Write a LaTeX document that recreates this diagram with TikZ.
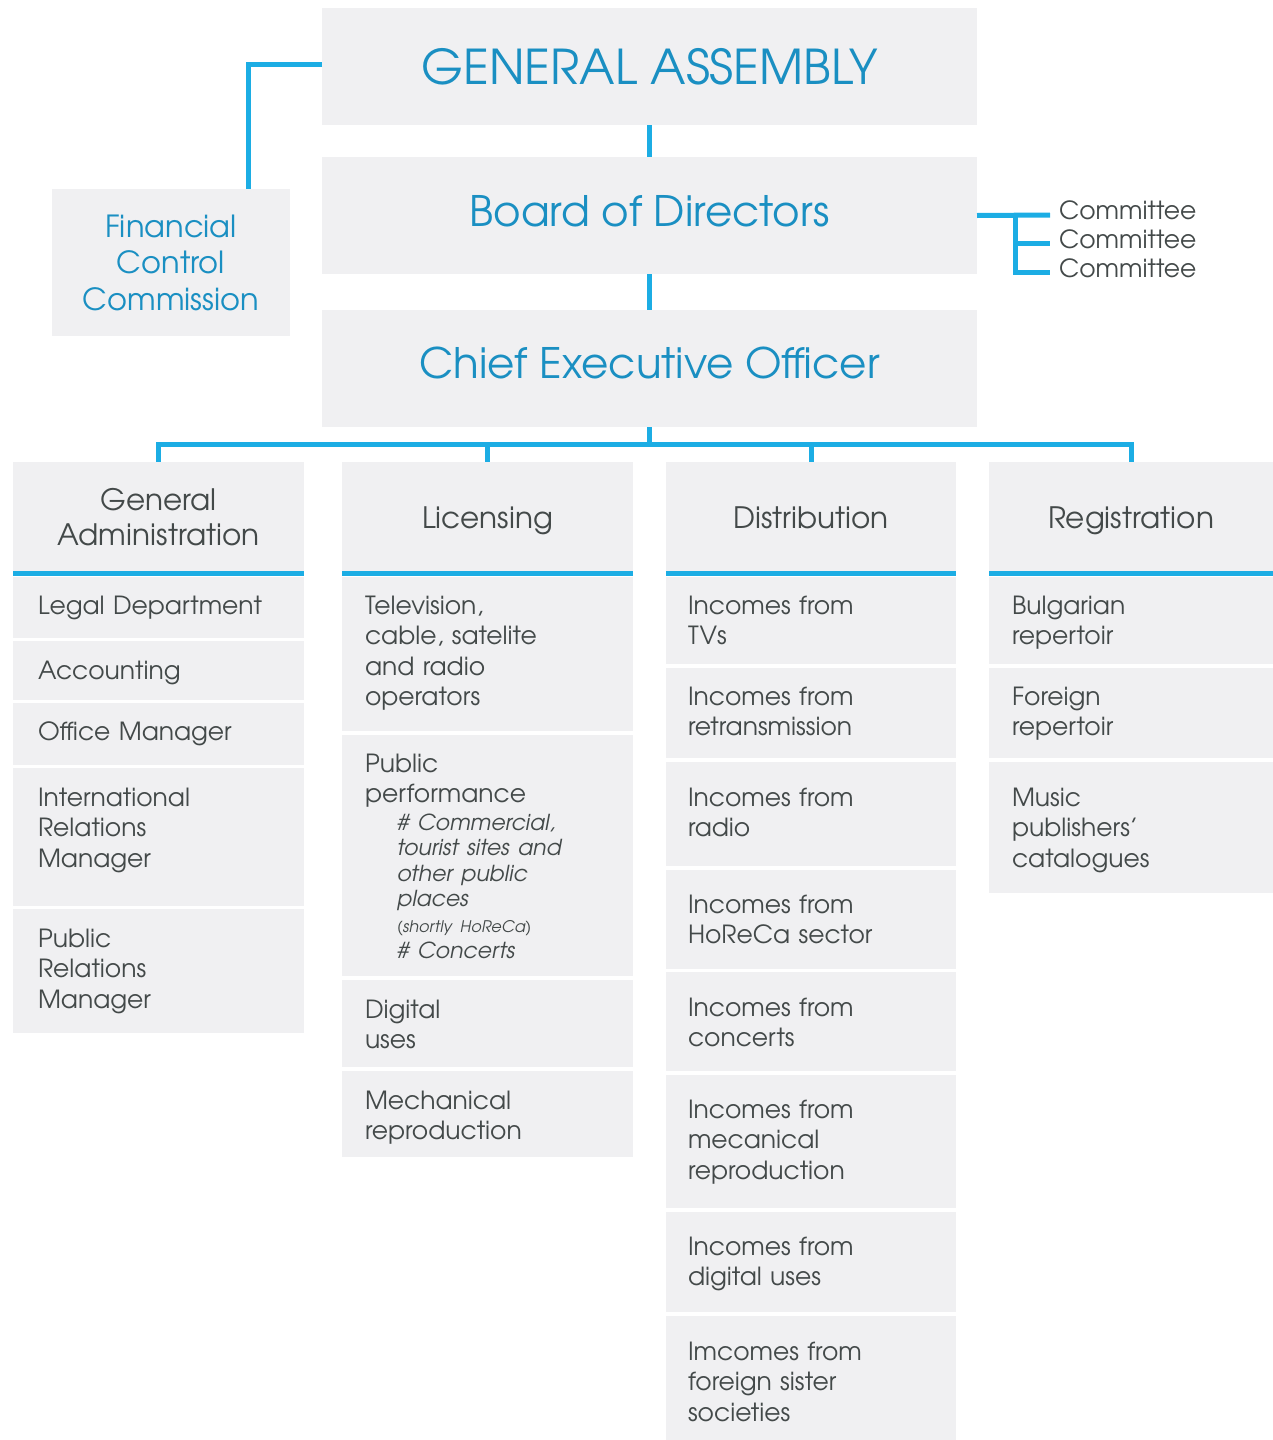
\documentclass[tikz,border=0pt]{standalone}
\usepackage{fontspec}
\setmainfont{texgyreadventor}[Extension=.otf, UprightFont=*-regular, ItalicFont=*-italic, BoldFont=*-bold]
\definecolor{barblue}{HTML}{1CADE4}
\definecolor{titleblue}{HTML}{1A8FC2}
\definecolor{boxgrey}{HTML}{F0F0F2}
\definecolor{textgrey}{HTML}{434949}

\begin{document}
\begin{tikzpicture}
				[x=1pt,y=-1pt,
				every node/.style={inner sep=0pt,outer sep=0pt,anchor=north west},
				bigbox/.style={fill=boxgrey,text=titleblue,minimum width=655pt,minimum height=117pt,font=\fontsize{42}{50}\selectfont},
				head/.style={fill=boxgrey,text=textgrey,align=center,minimum width=#1,minimum height=111pt,font=\fontsize{29.5}{35}\selectfont},
				item/.style 2 args={fill=boxgrey,text=textgrey,align=left,text height=#1,text depth=#2,font=\fontsize{25}{30.5}\selectfont},
				colA/.style={inner xsep=25pt,text width=241pt},
				colB/.style={inner xsep=23pt,text width=245pt},
				colC/.style={inner xsep=22pt,text width=246pt},
				colD/.style={inner xsep=23pt,text width=238pt},
				committee/.style={anchor=west,text=textgrey,font=\fontsize{25}{29}\selectfont},
				link/.style={draw=barblue,line width=5pt}]
				\useasboundingbox (0,0) rectangle (1273,1440);
				
				% top of the chart
				\node[bigbox,font=\fontsize{48}{50}\selectfont] (ga) at (322,8) {GENERAL ASSEMBLY};
				\node[bigbox,text height=31pt,text depth=9pt] (bod) at (322,157) {Board of Directors};
				\node[bigbox,text height=31pt,text depth=11pt] (ceo) at (322,310) {Chief Executive Officer};
				\node[fill=boxgrey,text=titleblue,align=center,minimum width=238pt,minimum height=147pt,font=\fontsize{30.5}{36.5}\selectfont] (fcc) at (52,189) {Financial\\Control\\Commission};
				\node[committee] (cm1) at (1059,210) {Committee};
				\node[committee] (cm2) at (1059,239) {Committee};
				\node[committee] (cm3) at (1059,268) {Committee};
				
				% departments
				\node[head=291pt] (adm) at (13,462) {General\\Administration};
				\node[head=291pt,text height=21pt,text depth=0pt] (lic) at (342,462) {Licensing};
				\node[head=290pt,text height=21pt,text depth=0pt] (dis) at (666,462) {Distribution};
				\node[head=284pt,text height=21pt,text depth=0pt] (reg) at (989,462) {Registration};
				
				\node[item={37pt}{24pt},colA] (adm1) at (13,577) {Legal Department};
				\node[item={38pt}{21pt},colA] (adm2) at (13,641) {Accounting};
				\node[item={37pt}{25pt},colA] (adm3) at (13,703) {Office Manager};
				\node[item={38pt}{100pt},colA] (adm4) at (13,768) {International\\Relations\\Manager};
				\node[item={38pt}{86pt},colA] (adm5) at (13,909) {Public\\Relations\\Manager};
				
				\node[item={37pt}{117pt},colB] (lic1) at (342,577) {Television,\\cable, satelite\\and radio\\operators};
				\node[item={37pt}{204pt},colB] (lic2) at (342,735) {Public\\performance\par\vspace{2pt}
					{\itshape\fontsize{22}{25.6}\selectfont\leftskip=32pt
					\# Commercial,\\tourist sites and\\other public\\places\\{\fontsize{16}{18}\selectfont(shortly HoReCa)}\\\# Concerts\par}};
				\node[item={38pt}{49pt},colB] (lic3) at (342,980) {Digital\\uses};
				\node[item={38pt}{48pt},colB] (lic4) at (342,1071) {Mechanical\\reproduction};
				
				\node[item={37pt}{50pt},colC] (dis1) at (666,577) {Incomes from\\TVs};
				\node[item={37pt}{53pt},colC] (dis2) at (666,668) {Incomes from\\retransmission};
				\node[item={44pt}{60pt},colC] (dis3) at (666,762) {Incomes from\\radio};
				\node[item={43pt}{56pt},colC] (dis4) at (666,870) {Incomes from\\HoReCa sector};
				\node[item={44pt}{55pt},colC] (dis5) at (666,972) {Incomes from\\concerts};
				\node[item={43pt}{90pt},colC] (dis6) at (666,1075) {Incomes from\\mecanical\\reproduction};
				\node[item={43pt}{57pt},colC] (dis7) at (666,1212) {Incomes from\\digital uses};
				\node[item={44pt}{80pt},colC] (dis8) at (666,1316) {Imcomes from\\foreign sister\\societies};
				
				\node[item={37pt}{50pt},colD] (reg1) at (989,577) {Bulgarian\\repertoir};
				\node[item={37pt}{53pt},colD] (reg2) at (989,668) {Foreign\\repertoir};
				\node[item={44pt}{87pt},colD] (reg3) at (989,762) {Music\\publishers’\\catalogues};
				
				% connectors
				\coordinate (bus) at (650,444);
				\coordinate (kv) at (1015,215);
				\coordinate (k1) at (1050,215);
				\coordinate (k2) at (1050,243);
				\coordinate (k3) at (1050,272);
				\draw[link] (ga.south) -- (bod.north);
				\draw[link] (bod.south) -- (ceo.north);
				\draw[link] ([yshift=2pt]ga.west) -| ([xshift=77pt]fcc.north);
				\draw[link] (bod.east) -- (k1);
				\draw[link] (kv) |- (k2);
				\draw[link] (kv) |- (k3);
				\foreach \h in {adm,lic,dis,reg}
				{\draw[link] (ceo.south) |- (bus -| \h.north) -- (\h.north);
				\draw[link] (\h.south west) -- (\h.south east);}
				\end{tikzpicture}
\end{document}
